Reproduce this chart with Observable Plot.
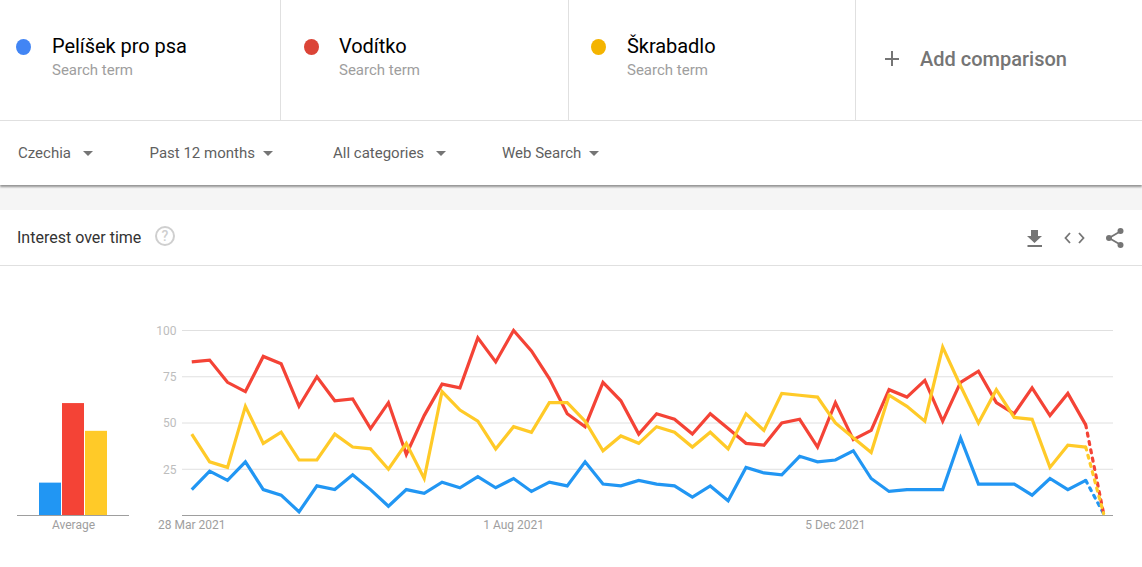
<!DOCTYPE html>
<html><head><meta charset="utf-8">
<script src="https://cdn.jsdelivr.net/npm/d3@7"></script>
<script src="https://cdn.jsdelivr.net/npm/@observablehq/plot@0.6"></script>
<style>
html,body{margin:0;padding:0;background:#fff;width:1142px;height:567px;overflow:hidden;font-family:Roboto,sans-serif}
.a{position:absolute;white-space:nowrap;line-height:1}
#chart,#avg{position:absolute;left:0;top:300px}
svg{display:block;overflow:visible}
</style></head><body>
<div id="ui"></div><div id="avg"></div><div id="chart"></div>
<script>
const terms = ["Pelíšek pro psa", "Vodítko", "Škrabadlo"];
const subLabel = "Search term";
const filters = ["Czechia", "Past 12 months", "All categories", "Web Search"];
const sectionTitle = "Interest over time";
const addLabel = "Add comparison";
const startDate = "2021-03-28";
const pelisek = [14,24,19,29,14,11,2,16,14,22,14,5,14,12,18,15,21,15,20,13,18,16,29,17,16,19,17,16,10,16,8,26,23,22,32,29,30,35,20,13,14,14,14,42,17,17,17,11,20,14,19,1];
const voditko = [83,84,72,67,86,82,59,75,62,63,47,61,33,54,71,69,96,83,100,89,74,55,48,72,62,44,55,52,44,55,47,39,38,50,52,37,61,41,46,68,64,73,51,72,78,61,55,69,54,66,49,1];
const skrabadlo = [44,29,26,59,39,45,30,30,44,37,36,25,39,20,67,57,51,36,48,45,61,61,51,35,43,39,48,45,37,45,36,55,46,66,65,64,50,42,34,65,59,51,91,70,50,68,53,52,26,38,37,1];
const averages = [17.5, 60.5, 45.5];
const averageLabel = "Average";
const yTicks = [25, 50, 75, 100];
const xTickDates = ["2021-03-28", "2021-08-01", "2021-12-05"];
const lineColors = ["#2196F3", "#F44336", "#FFCA28"];
const dotColors = ["#4285F4", "#DB4437", "#F4B400"];

const weekMs = 7 * 864e5;
const t0 = new Date(startDate + "T00:00:00Z");
const rows = [pelisek, voditko, skrabadlo].flatMap((vals, s) =>
  vals.map((v, i) => ({term: terms[s], i, date: new Date(+t0 + i * weekMs), value: v})));
const solid = rows.filter(d => d.i <= 50);
const partial = rows.filter(d => d.i >= 50);
const color = {domain: terms, range: lineColors};
const fmt = d3.utcFormat("%-d %b %Y");

document.getElementById("chart").append(Plot.plot({
  width: 1142, height: 240,
  marginLeft: 182, marginRight: 29, marginTop: 30, marginBottom: 25,
  style: {fontFamily: "Roboto, sans-serif", fontSize: "12px", background: "transparent"},
  x: {type: "utc", domain: [new Date("2021-03-24T09:00:00Z"), new Date("2022-03-23T21:00:00Z")]},
  y: {domain: [0, 100]},
  color,
  marks: [
    Plot.gridY(yTicks, {stroke: "#e0e0e0", strokeOpacity: 1}),
    Plot.ruleY([0], {stroke: "#9e9e9e"}),
    Plot.axisY({ticks: yTicks, tickSize: 0, tickPadding: 6, label: null, fill: "#bdbdbd", dy: 0.5}),
    Plot.axisX({ticks: xTickDates.map(d => new Date(d + "T00:00:00Z")), tickFormat: fmt, tickSize: 0, tickPadding: 5, label: null, fill: "#9e9e9e"}),
    Plot.line(solid, {x: "date", y: "value", stroke: "term", strokeWidth: 3.2, strokeLinejoin: "miter", strokeLinecap: "butt", strokeMiterlimit: 10}),
    Plot.line(partial, {x: "date", y: "value", stroke: "term", strokeWidth: 3.2, strokeDasharray: "3,5.5"})
  ]
}));

document.getElementById("avg").append(Plot.plot({
  width: 135, height: 240,
  marginLeft: 17, marginRight: 6, marginTop: 30, marginBottom: 25,
  style: {fontFamily: "Roboto, sans-serif", fontSize: "12px", background: "transparent"},
  x: {domain: terms, range: [39, 108], paddingInner: 0.04, paddingOuter: 0, axis: null},
  y: {domain: [0, 100], axis: null},
  color,
  marks: [
    Plot.barY(terms.map((t, i) => ({term: t, value: averages[i]})), {x: "term", y: "value", fill: "term"}),
    Plot.ruleY([0], {stroke: "#9e9e9e"}),
    Plot.text([averageLabel], {frameAnchor: "bottom", dy: 13, fill: "#9e9e9e"})
  ]
}));

// page chrome around the charts
const ui = document.getElementById("ui");
const box = (l, t, w, h, css) => {const e = document.createElement("div"); e.className = "a"; e.style.cssText = `left:${l}px;top:${t}px;width:${w}px;height:${h}px;${css}`; ui.append(e); return e;};
const txt = (s, l, cy, size, col, extra = "") => {const e = document.createElement("div"); e.className = "a"; e.textContent = s; e.style.cssText = `left:${l}px;top:${cy - size / 2}px;font-size:${size}px;color:${col};${extra}`; ui.append(e); return e;};
const icon = (html) => {const d = document.createElement("div"); d.innerHTML = html; ui.append(d.firstChild);};

[280, 568, 855].forEach(x => box(x, 0, 1, 120, "background:#e0e0e0"));
box(0, 120, 1142, 1, "background:#e0e0e0");
box(0, 185, 1142, 25, "background:#f5f5f5");
box(0, 121, 1142, 64, "background:#fff;box-shadow:0 1.5px 2px rgba(0,0,0,.4)");
box(0, 265, 1142, 1, "background:#e0e0e0");

const termX = [52, 339, 627], dotX = [23.7, 311, 598.7];
terms.forEach((t, i) => {
  box(dotX[i] - 7.5, 38.5, 15, 16, `border-radius:50%;background:${dotColors[i]}`);
  txt(t, termX[i], 46, 20, "#000", "letter-spacing:-0.05px");
  txt(subLabel, termX[i], 70, 15, "#9e9e9e");
});
const filterX = [18, 149.5, 333, 502], arrowX = [88, 268, 441.5, 594.5];
filters.forEach((f, i) => {
  txt(f, filterX[i], 153, 15, "#5f5f5f");
  box(arrowX[i] - 5.5, 150.5, 0, 0, "border-left:5.5px solid transparent;border-right:5.5px solid transparent;border-top:5.5px solid #757575");
});
txt(addLabel, 920, 59, 20, "#757575", "font-weight:500");
box(885, 58, 14, 2, "background:#757575");
box(891, 51, 2, 15, "background:#757575");
txt(sectionTitle, 17, 238, 16, "#333");
icon(`<svg class="a" style="left:0;top:0;position:absolute" width="1142" height="270">
<circle cx="165" cy="236" r="9" fill="none" stroke="#cfcfcf" stroke-width="2"/>
<text x="165" y="241" text-anchor="middle" font-size="14" font-weight="500" fill="#cfcfcf" font-family="Roboto">?</text>
<path d="M1031 230h7v6h4l-7.5 7-7.5-7h4zM1027.5 245h14.5v2h-14.5z" fill="#757575"/>
<path d="M1070 233l-4.5 5 4.5 5M1079 233l4.5 5-4.5 5" fill="none" stroke="#757575" stroke-width="1.8"/>
<path d="M1121 231l-12 7 12 7" fill="none" stroke="#757575" stroke-width="1.8"/>
<circle cx="1120.5" cy="231" r="3" fill="#757575"/><circle cx="1109" cy="238" r="3" fill="#757575"/><circle cx="1120.5" cy="245" r="3" fill="#757575"/>
</svg>`);
</script>
</body></html>
